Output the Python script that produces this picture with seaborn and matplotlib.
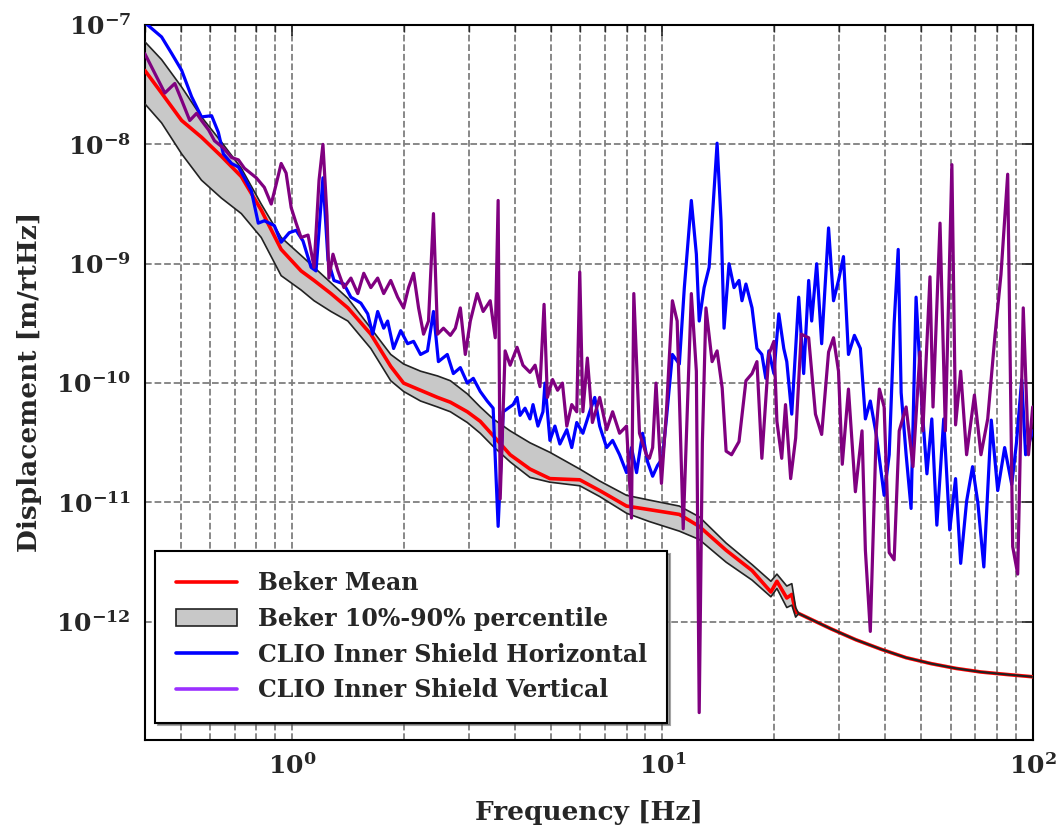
import numpy as np
import matplotlib
matplotlib.use("Agg")
import matplotlib.pyplot as plt
import seaborn as sns
from matplotlib.lines import Line2D
from matplotlib.patches import Patch
from matplotlib.ticker import NullLocator, NullFormatter

# Beker percentile band: frequency [Hz], log10 displacement [m/rtHz]
band_f = [0.4, 0.444, 0.503, 0.569, 0.644, 0.729, 0.825, 0.934, 1.057, 1.146,
          1.273, 1.414, 1.631, 1.846, 2.0, 2.222, 2.47, 2.675, 2.972, 3.221,
          3.49, 3.879, 4.389, 4.968, 5.981, 6.769, 8.0, 9.224, 11.11, 12.57,
          14.86, 17.46, 19.63, 20.38, 21.67, 22.36, 22.9, 23.34, 28.6, 33.3,
          39.0, 45.5, 53.2, 62.1, 72.5, 84.6, 100.0]
band_hi = [-7.14, -7.29, -7.52, -7.77, -7.98, -8.2, -8.5, -8.78, -8.93, -9.03,
           -9.16, -9.29, -9.54, -9.76, -9.84, -9.9, -9.94, -9.98, -10.09, -10.2,
           -10.3, -10.4, -10.5, -10.58, -10.72, -10.82, -10.94, -10.98, -11.03, -11.12,
           -11.34, -11.52, -11.66, -11.6, -11.7, -11.68, -11.88, -11.93, -12.06, -12.15,
           -12.23, -12.3, -12.35, -12.39, -12.42, -12.44, -12.46]
band_mean = [-7.38, -7.57, -7.8, -7.94, -8.1, -8.27, -8.55, -8.88, -9.06, -9.14,
             -9.25, -9.37, -9.59, -9.86, -10.0, -10.06, -10.12, -10.16, -10.24, -10.32,
             -10.44, -10.6, -10.72, -10.8, -10.81, -10.9, -11.03, -11.06, -11.1, -11.2,
             -11.4, -11.57, -11.75, -11.66, -11.8, -11.77, -11.92, -11.93, -12.06, -12.15,
             -12.23, -12.3, -12.35, -12.39, -12.42, -12.44, -12.46]
band_lo = [-7.66, -7.82, -8.08, -8.3, -8.45, -8.58, -8.78, -9.1, -9.22, -9.31,
           -9.4, -9.48, -9.71, -9.98, -10.07, -10.15, -10.2, -10.24, -10.33, -10.42,
           -10.53, -10.66, -10.79, -10.83, -10.86, -10.95, -11.09, -11.16, -11.24, -11.31,
           -11.5, -11.65, -11.79, -11.72, -11.88, -11.86, -11.96, -11.93, -12.06, -12.15,
           -12.23, -12.3, -12.35, -12.39, -12.42, -12.44, -12.46]

# CLIO inner shield, horizontal
h_f = [0.4, 0.444, 0.473, 0.503, 0.535, 0.569, 0.606, 0.632, 0.652, 0.686,
       0.716, 0.743, 0.776, 0.81, 0.841, 0.895, 0.934, 0.982, 1.025, 1.07,
       1.125, 1.16, 1.211, 1.25, 1.297, 1.38, 1.441, 1.533, 1.6, 1.65,
       1.702, 1.767, 1.811, 1.879, 1.964, 2.05, 2.128, 2.222, 2.32, 2.408,
       2.483, 2.624, 2.725, 2.846, 2.972, 3.085, 3.221, 3.363, 3.49, 3.6,
       3.716, 3.952, 4.05, 4.126, 4.255, 4.389, 4.472, 4.611, 4.757, 4.817,
       4.968, 5.125, 5.285, 5.518, 5.69, 5.87, 6.098, 6.363, 6.565, 6.769,
       7.069, 7.336, 7.661, 8.0, 8.25, 8.515, 8.84, 9.12, 9.41, 9.7,
       10.0, 10.25, 10.64, 11.11, 11.46, 11.97, 12.35, 12.57, 12.96, 13.37,
       13.62, 14.05, 14.4, 14.67, 15.13, 15.61, 16.1, 16.4, 16.81, 17.46,
       18.0, 18.56, 19.02, 19.38, 20.0, 20.62, 21.27, 21.67, 22.35, 23.34,
       24.07, 24.83, 25.3, 26.1, 26.92, 28.1, 28.98, 29.89, 30.83, 31.8,
       33.0, 34.25, 35.33, 36.43, 37.8, 39.7, 40.97, 42.25, 43.33, 44.13,
       45.52, 46.94, 48.42, 50.23, 51.8, 53.4, 55.1, 57.5, 59.7, 61.9,
       63.9, 66.3, 68.8, 71.09, 73.8, 77.3, 80.46, 84.0, 87.8, 90.4,
       93.4, 95.7, 100.0]
h_log = [-6.98, -7.1, -7.24, -7.38, -7.6, -7.77, -7.76, -7.9, -8.08, -8.16,
         -8.19, -8.28, -8.39, -8.66, -8.64, -8.68, -8.82, -8.74, -8.72, -8.81,
         -9.03, -9.06, -8.28, -8.97, -9.14, -9.17, -9.28, -9.33, -9.42, -9.59,
         -9.4, -9.54, -9.48, -9.71, -9.56, -9.67, -9.65, -9.76, -9.73, -9.4,
         -9.82, -9.76, -9.92, -9.87, -10.0, -9.96, -10.07, -10.15, -10.21, -11.2,
         -10.24, -10.18, -10.12, -10.27, -10.21, -10.3, -10.18, -10.36, -10.24, -10.0,
         -10.48, -10.36, -10.51, -10.39, -10.54, -10.33, -10.42, -10.24, -10.12, -10.36,
         -10.54, -10.48, -10.6, -10.75, -10.54, -10.75, -10.42, -10.66, -10.78, -10.69,
         -10.63, -10.3, -9.76, -9.84, -9.2, -8.47, -8.92, -9.48, -9.2, -9.03,
         -8.64, -7.99, -8.64, -9.54, -9.0, -9.2, -9.14, -9.31, -9.17, -9.37,
         -9.71, -9.76, -9.96, -9.73, -9.92, -9.42, -9.71, -9.82, -10.26, -9.28,
         -9.92, -9.14, -9.48, -9.0, -9.67, -8.7, -9.31, -9.14, -8.94, -9.76,
         -9.6, -9.71, -10.3, -10.15, -10.43, -10.94, -10.6, -9.5, -8.88, -10.08,
         -10.6, -11.05, -9.28, -10.19, -10.76, -10.3, -11.19, -10.3, -11.23, -10.8,
         -11.51, -10.99, -10.7, -11.0, -11.54, -10.31, -10.9, -10.54, -10.85, -10.5,
         -9.97, -10.6, -10.4]

# CLIO inner shield, vertical
v_f = [0.4, 0.425, 0.453, 0.482, 0.503, 0.529, 0.552, 0.569, 0.595, 0.617,
       0.652, 0.686, 0.716, 0.743, 0.8, 0.841, 0.878, 0.906, 0.934, 0.963,
       0.994, 1.025, 1.057, 1.104, 1.146, 1.182, 1.211, 1.242, 1.257, 1.289,
       1.329, 1.38, 1.441, 1.504, 1.561, 1.631, 1.702, 1.767, 1.846, 1.927,
       2.0, 2.062, 2.128, 2.195, 2.264, 2.335, 2.408, 2.47, 2.562, 2.675,
       2.759, 2.846, 2.935, 3.028, 3.16, 3.28, 3.427, 3.536, 3.6, 3.646,
       3.76, 3.879, 4.05, 4.2, 4.389, 4.53, 4.67, 4.79, 4.89, 5.05,
       5.21, 5.37, 5.518, 5.69, 5.87, 5.981, 6.098, 6.27, 6.47, 6.769,
       7.069, 7.336, 7.661, 8.0, 8.25, 8.37, 8.67, 9.05, 9.224, 9.41,
       9.61, 9.94, 10.25, 10.64, 10.96, 11.38, 11.97, 12.35, 12.57, 12.82,
       13.11, 13.62, 14.05, 14.5, 14.86, 15.37, 16.1, 16.81, 17.46, 18.0,
       18.56, 19.38, 20.0, 20.38, 21.0, 21.5, 22.2, 22.9, 23.7, 24.83,
       25.9, 26.92, 28.1, 28.98, 29.89, 30.6, 31.8, 33.2, 34.6, 35.33,
       36.43, 37.8, 38.55, 39.7, 40.97, 42.25, 43.6, 45.52, 47.5, 49.6,
       50.5, 52.8, 53.8, 56.2, 58.1, 60.5, 61.9, 63.9, 66.3, 69.6,
       72.5, 75.6, 79.1, 82.1, 85.6, 88.3, 91.1, 94.3, 97.4, 100.0]
v_log = [-7.24, -7.4, -7.57, -7.49, -7.63, -7.8, -7.74, -7.8, -7.88, -7.97,
         -8.03, -8.11, -8.13, -8.2, -8.28, -8.36, -8.5, -8.33, -8.16, -8.24,
         -8.53, -8.66, -8.78, -8.76, -9.03, -8.3, -8.0, -8.6, -9.12, -8.92,
         -9.06, -9.2, -9.12, -9.25, -9.08, -9.2, -9.12, -9.25, -9.14, -9.28,
         -9.37, -9.2, -9.08, -9.37, -9.59, -9.48, -8.58, -9.59, -9.54, -9.6,
         -9.54, -9.37, -9.76, -9.48, -9.25, -9.4, -9.31, -9.62, -8.47, -10.97,
         -9.73, -9.85, -9.7, -9.85, -9.91, -9.85, -10.03, -9.34, -10.12, -9.97,
         -10.06, -10.0, -10.36, -10.18, -10.24, -9.07, -10.24, -9.79, -10.33, -10.12,
         -10.39, -10.24, -10.42, -10.36, -11.13, -9.25, -10.42, -10.6, -10.63, -10.54,
         -10.0, -10.84, -10.24, -9.31, -9.48, -11.22, -9.25, -9.9, -12.76, -10.5,
         -9.37, -9.82, -9.73, -10.04, -10.57, -10.6, -10.49, -9.98, -9.92, -9.82,
         -10.63, -9.76, -9.65, -10.32, -10.63, -10.18, -10.8, -10.46, -9.59, -9.62,
         -10.26, -10.43, -9.74, -9.62, -9.9, -10.68, -10.05, -10.91, -10.4, -11.4,
         -12.08, -10.4, -10.05, -10.2, -11.42, -11.48, -10.4, -10.2, -10.7, -9.74,
         -10.4, -9.11, -10.2, -8.66, -10.4, -8.17, -10.35, -9.9, -10.6, -10.1,
         -10.6, -10.3, -9.6, -9.09, -8.25, -11.37, -11.6, -9.37, -10.6, -10.2]

y_ticks = [1e-12, 1e-11, 1e-10, 1e-9, 1e-8, 1e-7]
x_ticks = [1, 10, 100]

hi = 10.0 ** np.array(band_hi)
lo = 10.0 ** np.array(band_lo)
mean = 10.0 ** np.array(band_mean)
h_disp = 10.0 ** np.array(h_log)
v_disp = 10.0 ** np.array(v_log)

sns.set_style("white")
plt.rcParams['font.family'] = ['DejaVu Serif']
plt.rcParams['font.weight'] = 'bold'
plt.rcParams['mathtext.fontset'] = 'custom'
plt.rcParams['mathtext.rm'] = 'DejaVu Serif:bold'
plt.rcParams['mathtext.default'] = 'rm'

fig = plt.figure(figsize=(10.57, 8.33), dpi=100)
ax = fig.add_axes([0.137, 0.112, 0.840, 0.858])
ax.set_xscale('log')
ax.set_yscale('log')

ax.fill_between(band_f, lo, hi, facecolor='#c8c8c8', edgecolor='none', zorder=2)
sns.lineplot(x=band_f, y=mean, color='red', lw=2.6, ax=ax, sort=False, estimator=None, zorder=3)
sns.lineplot(x=band_f, y=hi, color='#222222', lw=1.2, ax=ax, sort=False, estimator=None, zorder=4)
sns.lineplot(x=band_f, y=lo, color='#222222', lw=1.2, ax=ax, sort=False, estimator=None, zorder=4)
sns.lineplot(x=h_f, y=h_disp, color='#0000ff', lw=2.3, ax=ax, sort=False, estimator=None, zorder=5)
sns.lineplot(x=v_f, y=v_disp, color='#800080', lw=2.3, ax=ax, sort=False, estimator=None, zorder=6)

ax.set_xlim(0.4, 100)
ax.set_ylim(1.03e-13, 1e-7)
ax.set_yticks(y_ticks)
ax.set_xticks(x_ticks)
ax.yaxis.set_minor_locator(NullLocator())
ax.xaxis.set_minor_formatter(NullFormatter())

ax.grid(True, which='major', axis='both', ls='--', color='#7f7f7f', lw=1.3, zorder=1)
ax.grid(True, which='minor', axis='x', ls='--', color='#7f7f7f', lw=1.3, zorder=1)
ax.tick_params(which='both', direction='in', top=True, right=True, labelsize=18, pad=10)
ax.tick_params(which='major', length=8, width=1.2)
ax.tick_params(which='minor', length=5, width=1.0)
for s in ax.spines.values():
    s.set_color('black')
    s.set_linewidth(1.5)

ax.set_xlabel('Frequency [Hz]', fontsize=19, fontweight='bold', labelpad=15)
ax.set_ylabel('Displacement [m/rtHz]', fontsize=19, fontweight='bold', labelpad=10)

handles = [Line2D([], [], color='red', lw=2.6),
           Patch(facecolor='#c8c8c8', edgecolor='#222222', lw=1.2),
           Line2D([], [], color='#0000ff', lw=2.6),
           Line2D([], [], color='#9b30ff', lw=2.6)]
labels = ['Beker Mean', 'Beker 10%-90% percentile',
          'CLIO Inner Shield Horizontal', 'CLIO Inner Shield Vertical']
leg = ax.legend(handles, labels, loc='lower left', bbox_to_anchor=(0.012, 0.024),
                borderaxespad=0, fancybox=False, shadow=True, frameon=True,
                fontsize=17, handlelength=2.6, labelspacing=0.5, borderpad=0.85,
                handletextpad=0.9)
leg.get_frame().set_edgecolor('black')
leg.get_frame().set_linewidth(1.5)
leg.set_zorder(10)

fig.savefig('out.png', dpi=100)
